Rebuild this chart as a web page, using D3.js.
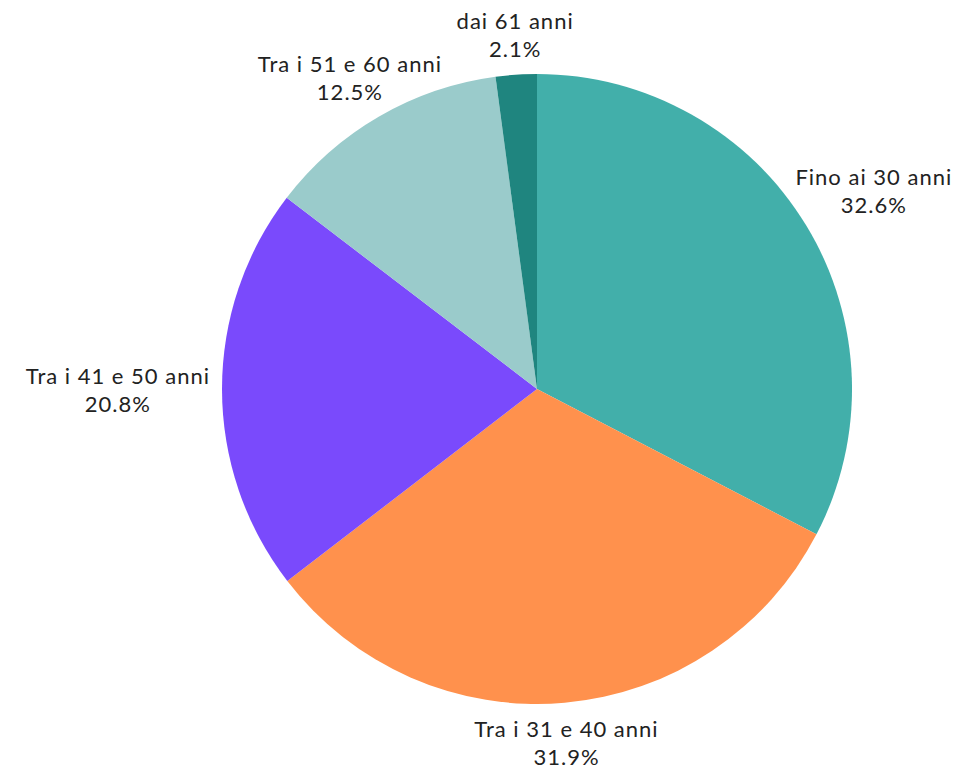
<!DOCTYPE html>
<html>
<head>
<meta charset="utf-8">
<script src="https://cdn.jsdelivr.net/npm/d3@7"></script>
<style>
  body { margin: 0; background: #fff; }
  svg { display: block; }
</style>
</head>
<body>
<div id="chart"></div>
<script>
const categories = ["Fino ai 30 anni", "Tra i 31 e 40 anni", "Tra i 41 e 50 anni", "Tra i 51 e 60 anni", "dai 61 anni"];
const values = [32.6, 31.9, 20.8, 12.5, 2.1];
const colors = ["#42afaa", "#ff914d", "#7a4afc", "#9acbcb", "#1f857f"];

const WIDTH = 958, HEIGHT = 767;
const CX = 537, CY = 389, RADIUS = 315;
const LABEL_GAP = 12; // distance between pie edge and label box
const LINE_H = 28;
const BOX_H = 2 * LINE_H;
const X_MID = 8; // baseline to middle of lowercase letters

var svg = d3.select("#chart").append("svg")
    .attr("width", WIDTH)
    .attr("height", HEIGHT);

var g = svg.append("g").attr("transform", `translate(${CX},${CY})`);

var data = categories.map((c, i) => ({ name: c, value: values[i], color: colors[i] }));

var pie = d3.pie()
    .sort(null)
    .value(d => d.value);

var arc = d3.arc()
    .innerRadius(0)
    .outerRadius(RADIUS);

var arcs = pie(data);

g.selectAll("path.slice")
    .data(arcs)
    .enter().append("path")
    .attr("class", "slice")
    .attr("d", arc)
    .attr("fill", d => d.data.color);

var fmt = d3.format(".1f");

var label = g.selectAll("text.label")
    .data(arcs)
    .enter().append("text")
    .attr("class", "label")
    .attr("text-anchor", "middle")
    .style("font-family", "Lato, 'Noto Sans', sans-serif")
    .style("font-size", "22px")
    .style("letter-spacing", "1px")
    .attr("fill", "#222");

label.append("tspan").attr("x", 0).attr("y", 0).text(d => d.data.name);
label.append("tspan").attr("x", 0).attr("y", LINE_H).text(d => fmt(d.data.value) + "%");

// place each label box just outside the slice's mid angle
label.each(function (d) {
    var bb = this.getBBox();
    var a = (d.startAngle + d.endAngle) / 2;
    var ux = Math.sin(a), uy = -Math.cos(a);
    var px = ux * (RADIUS + LABEL_GAP), py = uy * (RADIUS + LABEL_GAP);
    var cx = px + ux * Math.abs(ux) * bb.width / 2;
    var cy = py + Math.sign(uy) * Math.min(1, Math.abs(uy) * 3) * BOX_H / 2;
    var bcx = bb.x + bb.width / 2, bcy = LINE_H / 2 - X_MID;
    d3.select(this).attr("transform", `translate(${cx - bcx},${cy - bcy})`);
});
</script>
</body>
</html>
